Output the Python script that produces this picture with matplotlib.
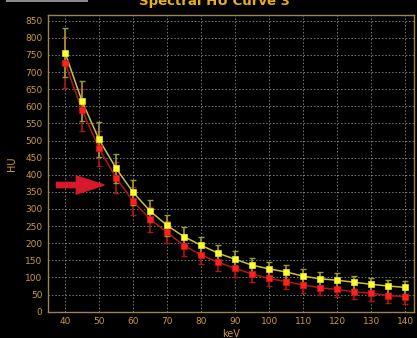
import matplotlib
matplotlib.use("Agg")
import matplotlib.pyplot as plt
from matplotlib.patches import Rectangle

kev = [40, 45, 50, 55, 60, 65, 70, 75, 80, 85, 90, 95, 100, 105, 110, 115, 120, 125, 130, 135, 140]
hu_yellow = [757, 615, 503, 419, 349, 294, 252, 219, 194, 171, 153, 136, 125, 116, 104, 96, 92, 86, 80, 75, 71]
err_yellow = [72, 58, 50, 42, 37, 33, 30, 27, 25, 24, 23, 22, 21, 21, 20, 20, 20, 19, 19, 19, 19]
hu_red = [727, 589, 477, 391, 323, 270, 232, 193, 166, 144, 127, 110, 97, 88, 78, 70, 65, 58, 54, 47, 44]
err_red = [75, 62, 52, 45, 40, 36, 32, 30, 28, 26, 25, 24, 23, 22, 22, 22, 22, 22, 22, 22, 22]
x_ticks = list(range(40, 141, 10))
y_ticks = list(range(0, 851, 50))

fig = plt.figure(figsize=(4.17, 3.38), dpi=100, facecolor="black")
ax = fig.add_axes([48/417, 1-311.7/338, (414-48)/417, (311.7-15)/338], facecolor="black")

tick_col = "#c89a40"
spine_col = "#9c8450"

ax.errorbar(kev, hu_red, yerr=err_red, fmt="none", ecolor="#a81818", elinewidth=1.2, capsize=2.5, capthick=1, zorder=3)
ax.errorbar(kev, hu_yellow, yerr=err_yellow, fmt="none", ecolor="#9a9a38", elinewidth=1.2, capsize=2.5, capthick=1, zorder=3)
ax.plot(kev, hu_red, color="#b01818", lw=1.1, zorder=4)
ax.plot(kev, hu_yellow, color="#c8c048", lw=1.1, zorder=4)
ax.plot(kev, hu_red, ls="none", marker="s", ms=4.2, mfc="#ff2020", mec="#e01010", mew=0.5, zorder=5)
ax.plot(kev, hu_yellow, ls="none", marker="s", ms=4.2, mfc="#ffff30", mec="#e8e820", mew=0.5, zorder=6)

ax.set_xlim(35, 142.6)
ax.set_ylim(0, 866.6)
ax.set_xticks(x_ticks)
ax.set_yticks(y_ticks)
ax.tick_params(colors=tick_col, labelsize=6.5, length=0, pad=4)
ax.grid(True, color="#bbbbbb", ls=(0, (1.5, 2)), lw=0.7, alpha=0.65)
ax.set_axisbelow(True)
for s in ax.spines.values():
    s.set_color(spine_col)
    s.set_linewidth(1.0)

ax.set_xlabel("keV", color=tick_col, fontsize=7, labelpad=2)
ax.set_ylabel("HU", color=tick_col, fontsize=7, labelpad=6)

ax.annotate("", xy=(51.5, 370), xytext=(37.5, 370),
            arrowprops=dict(arrowstyle="simple,head_length=20,head_width=13,tail_width=3.8",
                            mutation_scale=1, color="#d8182c", shrinkA=0, shrinkB=0))

fig.text(214/417, 1-4.5/338, "Spectral HU Curve 3", color="#e8b020", fontsize=9.5,
         fontweight="bold", ha="center", va="baseline")
fig.patches.append(Rectangle((6/417, 1-2/338), 82/417, 2/338, transform=fig.transFigure,
                             facecolor="#8a8a8a", edgecolor="none"))

fig.savefig("out.png", dpi=100, facecolor="black")
